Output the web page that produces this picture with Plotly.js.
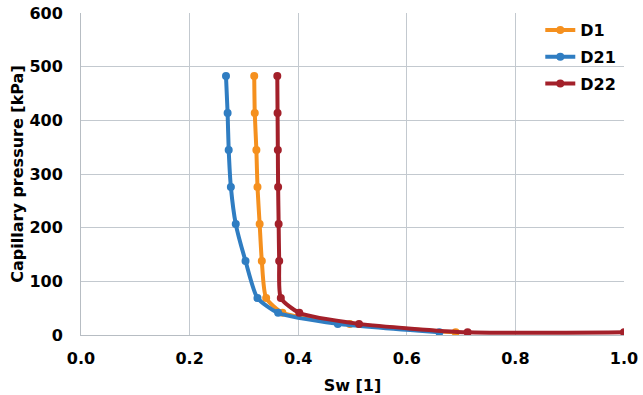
<!DOCTYPE html>
<html>
<head>
<meta charset="utf-8">
<script src="https://cdn.plot.ly/plotly-3.0.1.min.js"></script>
<style>html,body{margin:0;padding:0;background:#fff;}#chart{width:643px;height:395px;}</style>
</head>
<body>
<div id="chart"></div>
<script>
// Series names
const seriesNames = ["D1", "D21", "D22"];
// Capillary pressure values (kPa)
const pcD1  = [482.6, 413.7, 344.7, 275.8, 206.8, 137.9, 68.9, 41.4, 20.7, 5];
const pcD21 = [482.6, 413.7, 344.7, 275.8, 206.8, 137.9, 68.9, 41.4, 20.7, 5];
const pcD22 = [482.6, 413.7, 344.7, 275.8, 206.8, 137.9, 68.9, 41.4, 20.7, 5, 5];
// Water saturation Sw [1]
const swD1  = [0.319, 0.320, 0.323, 0.325, 0.329, 0.333, 0.341, 0.371, 0.495, 0.690];
const swD21 = [0.267, 0.270, 0.272, 0.276, 0.285, 0.303, 0.325, 0.363, 0.473, 0.660];
const swD22 = [0.3615, 0.362, 0.3625, 0.363, 0.364, 0.365, 0.368, 0.402, 0.512, 0.712, 1.0];
// Axis ticks
const xTicks = [0, 0.2, 0.4, 0.6, 0.8, 1.0];
const xTickLabels = ["0.0", "0.2", "0.4", "0.6", "0.8", "1.0"];
const yTicks = [0, 100, 200, 300, 400, 500, 600];

const colors = ["#F5901E", "#2F7DC2", "#A3202A"];
const xs = [swD1, swD21, swD22];
const ys = [pcD1, pcD21, pcD22];

const traces = seriesNames.map((n, i) => ({
  x: xs[i], y: ys[i], name: n, type: "scatter", mode: "lines+markers",
  legendgroup: "g" + i,
  line: {color: colors[i], width: 4, shape: "spline", smoothing: 0.6},
  marker: {color: colors[i], size: 8}
}));

const fam = "DejaVu Sans, Verdana, sans-serif";
const bold = {family: fam, size: 16, color: "#000", weight: "bold"};
const layout = {
  width: 643, height: 395,
  margin: {l: 81, r: 19, t: 13, b: 60},
  paper_bgcolor: "#fff", plot_bgcolor: "#fff",
  font: {family: fam, size: 16, color: "#000"},
  showlegend: true,
  legend: {x: 0.995, xanchor: "right", y: 1.0, yanchor: "top", bgcolor: "rgba(0,0,0,0)",
    font: bold, itemwidth: 30, tracegroupgap: 3},
  xaxis: {
    range: [0, 1], tickvals: xTicks, ticktext: xTickLabels,
    showgrid: true, gridcolor: "#C3C9CF", gridwidth: 1,
    zeroline: false, showline: true, linecolor: "#B7BDC3",
    ticks: "", ticklabelstandoff: 9, tickfont: bold,
    title: {text: "Sw [1]", font: bold, standoff: 12}
  },
  yaxis: {
    range: [0, 600], tickvals: yTicks,
    showgrid: true, gridcolor: "#C3C9CF", gridwidth: 1,
    zeroline: false, showline: true, linecolor: "#B7BDC3",
    ticks: "", ticklabelstandoff: 14, tickfont: bold,
    title: {text: "Capillary pressure [kPa]", font: bold, standoff: 1}
  }
};
Plotly.newPlot("chart", traces, layout, {displayModeBar: false, staticPlot: true});
</script>
</body>
</html>
